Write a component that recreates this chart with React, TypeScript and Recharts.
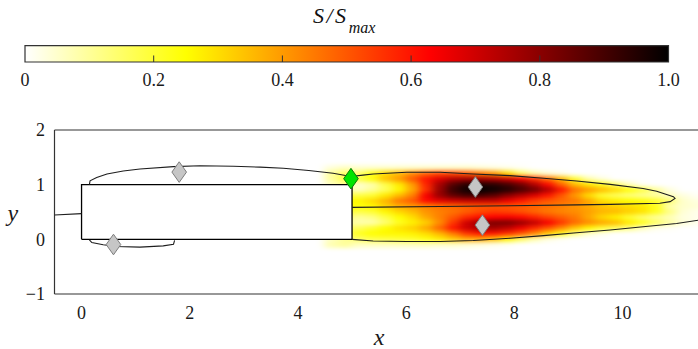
import React from 'react';
import {
  ComposedChart,
  XAxis,
  YAxis,
  Scatter,
  ReferenceLine,
  ReferenceArea,
} from 'recharts';

const SERIF = 'Liberation Serif';

// colour scale for S/S_max: white -> yellow -> red -> black
const CMAP_STOPS = [0, 0.25, 0.63, 1];
const CMAP_RGB = [
  [255, 255, 255],
  [255, 255, 0],
  [255, 0, 0],
  [0, 0, 0],
];

const CB_TICKS = [0, 0.2, 0.4, 0.6, 0.8, 1];
const CB_INNER_TICKS = [0.2, 0.4, 0.6, 0.8];
const X_TICKS = [0, 2, 4, 6, 8, 10];
const Y_TICKS = [-1, 0, 1, 2];

// sampled field: column centres (x), row centres (y), S/S_max in percent
const CELL_DX = 0.25;
const CELL_DY = 0.1;
const heatX = [
  4.625, 4.875, 5.125, 5.375, 5.625, 5.875, 6.125, 6.375, 6.625, 6.875,
  7.125, 7.375, 7.625, 7.875, 8.125, 8.375, 8.625, 8.875, 9.125, 9.375,
  9.625, 9.875, 10.125, 10.375, 10.625, 10.875, 11.125, 11.375,
];
const heatY = [1.3, 1.2, 1.1, 1.0, 0.9, 0.8, 0.7, 0.6, 0.5, 0.4, 0.3, 0.2, 0.1, 0.0, -0.1];
const heatS = [
  [4, 6, 5, 5, 5, 5, 5, 5, 5, 5, 5, 4, 3, 2, 1, 0, 0, 0, 0, 0, 0, 0, 0, 0, 0, 0, 0, 0],
  [10, 15, 14, 22, 30, 35, 42, 48, 52, 52, 50, 45, 40, 30, 15, 8, 4, 2, 0, 0, 0, 0, 0, 0, 0, 0, 0, 0],
  [10, 18, 18, 24, 34, 40, 50, 60, 68, 74, 76, 76, 74, 70, 64, 56, 46, 35, 20, 8, 3, 0, 0, 0, 0, 0, 0, 0],
  [6, 10, 5, 8, 18, 28, 40, 58, 76, 88, 94, 95, 94, 90, 84, 74, 62, 48, 35, 28, 22, 14, 6, 1, 0, 0, 0, 0],
  [10, 10, 6, 10, 16, 26, 38, 56, 78, 92, 98, 100, 98, 95, 90, 84, 74, 60, 46, 40, 35, 30, 24, 18, 10, 3, 0, 0],
  [15, 18, 18, 20, 28, 35, 44, 64, 78, 86, 90, 90, 87, 80, 74, 68, 60, 50, 40, 30, 20, 16, 13, 11, 9, 6, 3, 1],
  [22, 25, 26, 30, 36, 45, 50, 62, 67, 70, 72, 72, 72, 66, 60, 54, 50, 47, 45, 38, 30, 27, 25, 23, 20, 14, 5, 3],
  [22, 24, 24, 26, 32, 37, 40, 43, 46, 47, 49, 50, 50, 50, 49, 48, 46, 44, 41, 38, 34, 32, 30, 28, 22, 8, 5, 4],
  [18, 20, 18, 20, 26, 31, 35, 41, 44, 46, 49, 52, 54, 53, 51, 48, 45, 43, 42, 39, 36, 35, 32, 29, 22, 12, 4, 2],
  [12, 14, 10, 12, 18, 25, 30, 38, 44, 50, 57, 61, 63, 64, 62, 58, 53, 49, 45, 38, 31, 27, 20, 14, 10, 7, 3, 2],
  [10, 10, 8, 8, 14, 22, 27, 32, 42, 55, 70, 78, 82, 82, 78, 72, 64, 55, 47, 42, 38, 35, 28, 22, 15, 9, 4, 2],
  [12, 14, 16, 20, 25, 29, 32, 38, 48, 60, 70, 75, 76, 72, 65, 57, 50, 42, 33, 26, 20, 16, 12, 6, 2, 1, 0, 0],
  [12, 16, 22, 25, 26, 26, 27, 30, 36, 45, 55, 60, 60, 56, 50, 42, 32, 22, 12, 5, 2, 0, 0, 0, 0, 0, 0, 0],
  [6, 10, 15, 18, 19, 20, 21, 24, 28, 33, 38, 38, 34, 26, 16, 8, 3, 1, 0, 0, 0, 0, 0, 0, 0, 0, 0, 0],
  [8, 10, 6, 6, 6, 6, 6, 6, 5, 5, 4, 3, 2, 1, 0, 0, 0, 0, 0, 0, 0, 0, 0, 0, 0, 0, 0, 0],
];

// solid body
const body = [
  { x: 0, y: 0 }, { x: 5, y: 0 }, { x: 5, y: 1 }, { x: 0, y: 1 }, { x: 0, y: 0 },
];

// contour lines
const inletLine = [{ x: -0.5, y: 0.445 }, { x: 0, y: 0.47 }];
const upperContour = [
  { x: 0.145, y: 1.0 }, { x: 0.157, y: 1.07 }, { x: 0.28, y: 1.13 }, { x: 0.47, y: 1.195 },
  { x: 0.77, y: 1.25 }, { x: 1.08, y: 1.286 }, { x: 1.7, y: 1.33 }, { x: 2.19, y: 1.345 },
  { x: 2.81, y: 1.336 }, { x: 3.3, y: 1.32 }, { x: 3.73, y: 1.3 }, { x: 4.2, y: 1.26 },
  { x: 4.65, y: 1.21 }, { x: 4.98, y: 1.15 }, { x: 5.2, y: 1.175 }, { x: 5.39, y: 1.195 },
  { x: 6.01, y: 1.226 }, { x: 6.63, y: 1.226 }, { x: 7.24, y: 1.195 }, { x: 7.92, y: 1.165 },
  { x: 8.54, y: 1.116 }, { x: 9.15, y: 1.067 }, { x: 9.77, y: 1.006 }, { x: 10.38, y: 0.93 },
  { x: 10.63, y: 0.88 }, { x: 10.94, y: 0.78 }, { x: 10.97, y: 0.75 }, { x: 10.88, y: 0.69 },
  { x: 10.69, y: 0.66 }, { x: 9.77, y: 0.64 }, { x: 9.15, y: 0.63 }, { x: 7.92, y: 0.615 },
  { x: 6.63, y: 0.6 }, { x: 5.0, y: 0.585 },
];
const lowerBubble = [
  { x: 0.145, y: -0.01 }, { x: 0.19, y: -0.06 }, { x: 0.4, y: -0.1 }, { x: 0.65, y: -0.13 },
  { x: 1.08, y: -0.142 }, { x: 1.51, y: -0.12 }, { x: 1.7, y: -0.09 }, { x: 1.72, y: -0.02 },
];
const lowerWake = [
  { x: 5.0, y: 0 }, { x: 5.39, y: -0.03 }, { x: 6.01, y: -0.04 }, { x: 6.63, y: -0.04 },
  { x: 7.24, y: -0.02 }, { x: 7.92, y: 0.02 }, { x: 8.54, y: 0.067 }, { x: 9.15, y: 0.12 },
  { x: 9.77, y: 0.17 }, { x: 10.38, y: 0.23 }, { x: 11.0, y: 0.29 }, { x: 11.4, y: 0.35 },
  { x: 11.5, y: 0.37 },
];

// probe locations
const greyProbes = [
  { x: 0.59, y: -0.095 },
  { x: 1.805, y: 1.23 },
  { x: 7.28, y: 0.957 },
  { x: 7.41, y: 0.26 },
];
const greenProbe = [{ x: 4.98, y: 1.11 }];

// main plot layout (right edge runs past the visible frame)
const MAIN_W = 710;
const MAIN_H = 349;
const MAIN_MARGIN = { top: 130, right: 6.3, bottom: 0, left: 0.5 };
const Y_AXIS_W = 54;
const X_AXIS_H = 55;
const X_DOMAIN = [-0.5, 11.5];
const Y_DOMAIN = [-1, 2];
const PLOT_W = MAIN_W - MAIN_MARGIN.left - MAIN_MARGIN.right - Y_AXIS_W;
const PLOT_H = MAIN_H - MAIN_MARGIN.top - MAIN_MARGIN.bottom - X_AXIS_H;
const PX_PER_X = PLOT_W / (X_DOMAIN[1] - X_DOMAIN[0]);
const PX_PER_Y = PLOT_H / (Y_DOMAIN[1] - Y_DOMAIN[0]);

const sColor = (s: number) => {
  const v = Math.max(0, Math.min(1, s));
  let i = 0;
  while (i < CMAP_STOPS.length - 2 && v > CMAP_STOPS[i + 1]) i++;
  const t = (v - CMAP_STOPS[i]) / (CMAP_STOPS[i + 1] - CMAP_STOPS[i]);
  const a = CMAP_RGB[i];
  const b = CMAP_RGB[i + 1];
  const c = a.map((ai, k) => Math.round(ai + (b[k] - ai) * t));
  return `rgb(${c[0]},${c[1]},${c[2]})`;
};

const heatCells = heatY.flatMap((y, r) =>
  heatX.map((x, c) => ({ x, y, s: heatS[r][c] / 100 }))
);

const HeatCell = (props: any) => {
  const { cx, cy, payload } = props;
  if (cx == null || cy == null) return <g />;
  const w = CELL_DX * PX_PER_X + 0.6;
  const h = CELL_DY * PX_PER_Y + 0.6;
  return <rect x={cx - w / 2} y={cy - h / 2} width={w} height={h} fill={sColor(payload.s)} />;
};

const NoDot = () => <g />;

const makeDiamond = (fill: string, stroke: string) => (props: any) => {
  const { cx, cy } = props;
  if (cx == null || cy == null) return <g />;
  const hw = 7.3;
  const hh = 10.3;
  return (
    <polygon
      points={`${cx},${cy - hh} ${cx + hw},${cy} ${cx},${cy + hh} ${cx - hw},${cy}`}
      fill={fill}
      stroke={stroke}
      strokeWidth={1}
    />
  );
};
const GreyDiamond = makeDiamond('#c6c6c6', '#7d7d7d');
const GreenDiamond = makeDiamond('#00e400', '#0b7a0b');

const tickStyle = { fontFamily: SERIF, fontSize: 18, fill: '#1a1a1a' };
const FRAME = '#333';

const fmtY = (v: number) => (v < 0 ? `\u2212${Math.abs(v)}` : String(v));
const fmtCb = (v: number) => (v === 0 ? '0' : v.toFixed(1));

const contourLine = { stroke: '#1e1e1e', strokeWidth: 1.1 };

const MainPlot = () => (
  <ComposedChart width={MAIN_W} height={MAIN_H} margin={MAIN_MARGIN}>
    <defs>
      <filter id="heatBlur" x="-5%" y="-20%" width="110%" height="140%" colorInterpolationFilters="sRGB">
        <feGaussianBlur stdDeviation="4.5 2.2" />
      </filter>
    </defs>
    <XAxis
      type="number"
      dataKey="x"
      domain={X_DOMAIN}
      allowDataOverflow
      ticks={X_TICKS}
      interval={0}
      height={X_AXIS_H}
      tickLine={false}
      tickMargin={6}
      tick={tickStyle}
      axisLine={{ stroke: FRAME, strokeWidth: 1.2 }}
      label={{
        value: 'x',
        position: 'insideBottom',
        offset: 4,
        fontFamily: SERIF,
        fontStyle: 'italic',
        fontSize: 24,
        fill: '#1a1a1a',
      }}
    />
    <YAxis
      type="number"
      dataKey="y"
      domain={Y_DOMAIN}
      allowDataOverflow
      ticks={Y_TICKS}
      interval={0}
      width={Y_AXIS_W}
      tickLine={false}
      tickMargin={3.5}
      tick={tickStyle}
      tickFormatter={fmtY}
      axisLine={{ stroke: FRAME, strokeWidth: 1.2 }}
      label={{
        value: 'y',
        position: 'insideLeft',
        offset: 7,
        fontFamily: SERIF,
        fontStyle: 'italic',
        fontSize: 24,
        fill: '#1a1a1a',
      }}
    />
    <Scatter
      className="heat-field"
      data={heatCells}
      shape={HeatCell}
      isAnimationActive={false}
    />
    <Scatter
      data={body}
      fill="#000"
      line={{ stroke: '#000', strokeWidth: 1.3, fill: '#fff' }}
      lineType="joint"
      shape={NoDot}
      isAnimationActive={false}
    />
    <Scatter data={inletLine} fill="#1e1e1e" line={contourLine} lineType="joint" shape={NoDot} isAnimationActive={false} />
    <Scatter data={upperContour} fill="#1e1e1e" line={contourLine} lineType="joint" shape={NoDot} isAnimationActive={false} />
    <Scatter data={lowerBubble} fill="#1e1e1e" line={contourLine} lineType="joint" shape={NoDot} isAnimationActive={false} />
    <Scatter data={lowerWake} fill="#1e1e1e" line={contourLine} lineType="joint" shape={NoDot} isAnimationActive={false} />
    <ReferenceLine y={2} stroke={FRAME} strokeWidth={1.2} />
    <Scatter data={greyProbes} shape={GreyDiamond} isAnimationActive={false} />
    <Scatter data={greenProbe} shape={GreenDiamond} isAnimationActive={false} />
  </ComposedChart>
);

const ColorBar = () => (
  <ComposedChart width={698} height={100} margin={{ top: 45.7, right: 29.5, bottom: 0, left: 25 }}>
    <defs>
      <linearGradient id="sCmap" x1="0" y1="0" x2="1" y2="0">
        {CMAP_STOPS.map((o, i) => (
          <stop key={o} offset={`${o * 100}%`} stopColor={`rgb(${CMAP_RGB[i].join(',')})`} />
        ))}
      </linearGradient>
    </defs>
    <XAxis
      type="number"
      dataKey="x"
      domain={[0, 1]}
      allowDataOverflow
      ticks={CB_TICKS}
      interval={0}
      height={38}
      tickLine={false}
      axisLine={false}
      tickMargin={5}
      tick={tickStyle}
      tickFormatter={fmtCb}
    />
    <YAxis type="number" dataKey="y" domain={[0, 1]} allowDataOverflow hide />
    <ReferenceArea x1={0} x2={1} y1={0} y2={1} fill="url(#sCmap)" fillOpacity={1} stroke={FRAME} strokeWidth={1.2} />
    {CB_INNER_TICKS.map((t) => (
      <ReferenceLine
        key={t}
        segment={[{ x: t, y: 0 }, { x: t, y: 0.4 }]}
        stroke={FRAME}
        strokeWidth={1}
      />
    ))}
  </ComposedChart>
);

export default function App() {
  return (
    <div
      style={{
        position: 'fixed',
        left: 0,
        top: 0,
        width: 698,
        height: 349,
        overflow: 'hidden',
        background: '#fff',
        fontFamily: SERIF,
      }}
    >
      <style>{'.heat-field { filter: url(#heatBlur); }'}</style>
      <div style={{ position: 'absolute', left: 0, top: 0 }}>
        <MainPlot />
      </div>
      <svg width={698} height={44} style={{ position: 'absolute', left: 0, top: 0 }}>
        <text x={313} y={23.3} fontFamily={SERIF} fontStyle="italic" fontSize={22} letterSpacing={2.5} fill="#111">
          S/S
          <tspan fontSize={16} dy={10} letterSpacing={0}>max</tspan>
        </text>
      </svg>
      <div style={{ position: 'absolute', left: 0, top: 0 }}>
        <ColorBar />
      </div>
    </div>
  );
}
